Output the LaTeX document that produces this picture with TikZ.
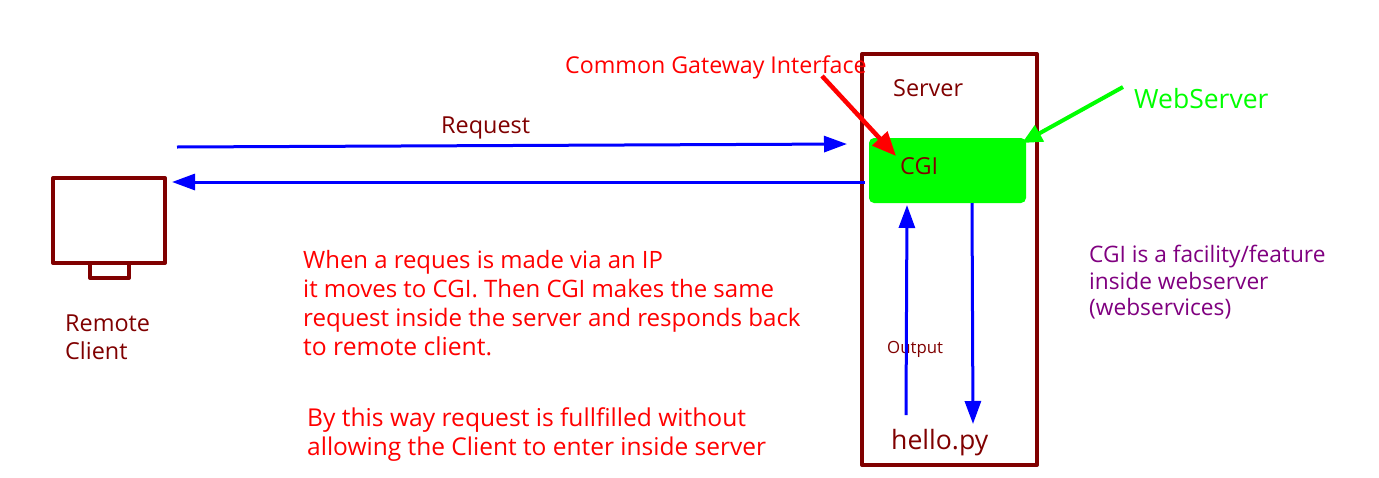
\documentclass[tikz,border=0pt]{standalone}
\usepackage{fontspec}
\setmainfont{Open Sans}
\usetikzlibrary{arrows.meta}
\definecolor{mar}{HTML}{800000}
\definecolor{bl}{HTML}{0000FF}
\definecolor{gr}{HTML}{00FF00}
\definecolor{pu}{HTML}{800080}
\newcommand{\fs}[1]{\fontsize{#1}{#1}\selectfont}
\begin{document}
\begin{tikzpicture}[x=1pt,y=-1pt,
 lbl/.style={inner sep=0pt,anchor=base west,font=\fs{23.4}},
 redtxt/.style={lbl,text=red,font=\fs{24.2}},
 putxt/.style={lbl,text=pu,font=\fs{22.7}},
 ar/.style={line width=3pt,-{Triangle[length=23pt,width=16pt]}},
 redar/.style={line width=4.5pt,-{Triangle[length=24pt,width=20pt]}},
 grar/.style={line width=4pt,-{Triangle[length=20pt,width=18pt]}}]
\useasboundingbox (0,0) rectangle (1379,477);
\fill[white] (0,0) rectangle (1379,477);
\draw[mar,line width=4pt,line join=round] (862,54) rectangle (1037,465);
\node[fill=gr,rounded corners=5pt,minimum width=157pt,minimum height=65pt,inner sep=0pt] (cgi) at (947.5,170.5) {};
\draw[mar,line width=4pt,line join=round] (53,178) rectangle (165,263);
\draw[mar,line width=4pt,line join=round] (90,263) rectangle (129,278);
\node[lbl,text=mar] (srv) at (893,96) {Server};
\node[lbl,text=mar] (req) at (441,133) {Request};
\node[lbl,text=mar] (cg) at (900,174) {CGI};
\node[lbl,text=red,font=\fs{23.2}] (cgif) at (565,73) {Common Gateway Interface};
\node[lbl,text=gr,font=\fs{26.5}] (ws) at (1134,108) {WebServer};
\node[lbl,text=mar] (rc) at (65,331) {Remote};
\node[lbl,text=mar] (rc2) at (65,359) {Client};
\node[lbl,text=mar,font=\fs{16.8}] (op) at (887,353) {Output};
\node[lbl,text=mar,font=\fs{26.6}] (hp) at (891,449) {hello.py};
\node[redtxt,font=\fs{23.9}] (t1) at (303,268) {When a reques is made via an IP};
\node[redtxt,font=\fs{24}] (t2) at (303,297) {it moves to CGI. Then CGI makes the same};
\node[redtxt,font=\fs{24.1}] (t3) at (303,326) {request inside the server and responds back};
\node[redtxt,font=\fs{24.7}] (t4) at (303,355) {to remote client.};
\node[redtxt,font=\fs{24.6}] (t5) at (307,426) {By this way request is fullfilled without};
\node[redtxt,font=\fs{24.5}] (t6) at (307,455) {allowing the Client to enter inside server};
\node[putxt] (p1) at (1089,262) {CGI is a facility/feature};
\node[putxt] (p2) at (1089,289) {inside webserver};
\node[putxt] (p3) at (1089,315) {(webservices)};
\coordinate (a1) at (177,147);\coordinate (a2) at (847,144);
\coordinate (b1) at (865,182);\coordinate (b2) at (172,182);
\coordinate (c1) at (906,415);\coordinate (c2) at (907,205);
\coordinate (d1) at (972,203);\coordinate (d2) at (973,424);
\coordinate (e1) at (822,76);\coordinate (e2) at (896,156);
\coordinate (f1) at (1123,87);\coordinate (f2) at (1022,143);
\draw[ar,bl] (a1)--(a2);
\draw[ar,bl] (b1)--(b2);
\draw[ar,bl] (c1)--(c2);
\draw[ar,bl] (d1)--(d2);
\draw[redar,red] (e1)--(e2);
\draw[grar,gr] (f1)--(f2);
\end{tikzpicture}
\end{document}
